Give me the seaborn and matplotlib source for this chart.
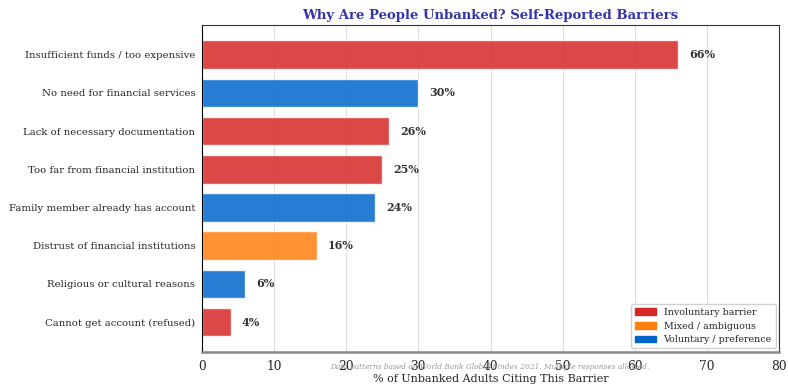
import matplotlib.pyplot as plt
from matplotlib.patches import Patch
import seaborn as sns
import pandas as pd

barriers = [
    "Insufficient funds / too expensive",
    "No need for financial services",
    "Lack of necessary documentation",
    "Too far from financial institution",
    "Family member already has account",
    "Distrust of financial institutions",
    "Religious or cultural reasons",
    "Cannot get account (refused)",
]
pct = [66, 30, 26, 25, 24, 16, 6, 4]
kind = ["Involuntary", "Voluntary", "Involuntary", "Involuntary",
        "Voluntary", "Mixed", "Voluntary", "Involuntary"]

colors = {"Involuntary": "#d62728", "Mixed": "#ff7f0e", "Voluntary": "#0066cc"}
legend_labels = {"Involuntary": "Involuntary barrier",
                 "Mixed": "Mixed / ambiguous",
                 "Voluntary": "Voluntary / preference"}

df = pd.DataFrame({"Barrier": barriers, "Pct": pct, "Kind": kind})

sns.set_style("white")
plt.rcParams["font.family"] = ["DejaVu Serif"]

fig = plt.figure(figsize=(7.88, 3.85), dpi=100)
ax = fig.add_axes([0.256, 0.086, 0.733, 0.849])

sns.barplot(data=df, x="Pct", y="Barrier", hue="Kind", palette=colors,
            orient="h", width=0.75, dodge=False, alpha=0.85, legend=False,
            saturation=1, ax=ax)

for i, v in enumerate(pct):
    ax.text(v + 1.5, i, f"{v}%", va="center", ha="left", fontsize=8,
            fontweight="bold", color="#333333")

ax.set_xlim(0, 80)
ax.set_ylim(7.78, -0.78)
ax.set_xlabel("% of Unbanked Adults Citing This Barrier", fontsize=8, labelpad=1)
ax.set_ylabel("")
ax.set_title("Why Are People Unbanked? Self-Reported Barriers", fontsize=9.5,
             fontweight="bold", color="#3333aa", pad=4)
ax.tick_params(axis="x", labelsize=8.8, length=4, pad=1.5)
ax.tick_params(axis="y", labelsize=7.3, length=2.5, pad=2)
ax.xaxis.grid(True, color="#dddddd", linewidth=0.8)
ax.set_axisbelow(True)

for s in ["top", "right"]:
    ax.spines[s].set_color("#333333")
ax.spines["left"].set_color("black")
ax.spines["bottom"].set_color("#888888")
ax.spines["bottom"].set_linewidth(1.8)

handles = [Patch(color=colors[k], label=legend_labels[k]) for k in ["Involuntary", "Mixed", "Voluntary"]]
ax.legend(handles=handles, loc="lower right", fontsize=6.8, frameon=True,
          framealpha=0.9, handlelength=2.2, borderaxespad=0.4)

fig.text(0.622, 0.047, "Data patterns based on World Bank Global Findex 2021. Multiple responses allowed.",
         ha="center", va="center", fontsize=5.3, style="italic", color="#999999")

fig.savefig("out.png", dpi=100)
